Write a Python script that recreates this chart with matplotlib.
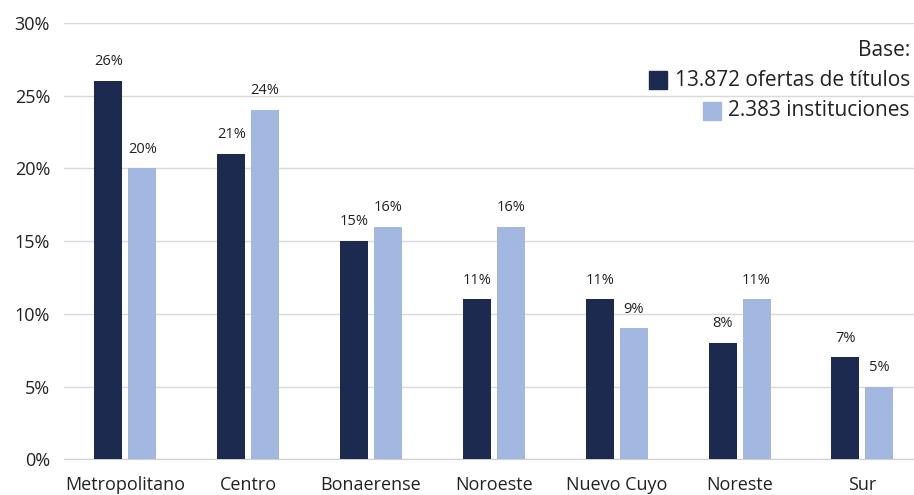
import numpy as np
import matplotlib
matplotlib.use('Agg')
import matplotlib.pyplot as plt
from matplotlib.patches import Rectangle

plt.rcParams['font.family'] = ['Open Sans', 'DejaVu Sans']

# datos
regiones = ['Metropolitano', 'Centro', 'Bonaerense', 'Noroeste', 'Nuevo Cuyo', 'Noreste', 'Sur']
ofertas = [26, 21, 15, 11, 11, 8, 7]
instituciones = [20, 24, 16, 16, 9, 11, 5]
serie_nombres = ['13.872 ofertas de títulos', '2.383 instituciones']

c_oscuro = '#1b2a4e'
c_claro = '#a2b8e0'

fig = plt.figure(figsize=(9.14, 4.95), dpi=100)
ax = fig.add_axes([0.070, 0.072, 0.93, 0.882])

x = np.arange(len(regiones))
w = 0.228
off = 0.138
b1 = ax.bar(x - off, ofertas, w, color=c_oscuro, zorder=3)
b2 = ax.bar(x + off, instituciones, w, color=c_claro, zorder=3)

for bars in (b1, b2):
    for r in bars:
        ax.text(r.get_x() + r.get_width() / 2, r.get_height() + 0.8, f'{int(r.get_height())}%',
                ha='center', va='bottom', fontsize=10.5, color='#222222')

ax.set_ylim(0, 30)
ax.set_xlim(-0.5, 6.42)
ax.set_yticks(range(0, 31, 5))
ax.set_yticklabels([f'{v}%' for v in range(0, 31, 5)], fontsize=13, color='#222222')
ax.set_xticks(x)
ax.set_xticklabels(regiones, fontsize=13, color='#222222')
ax.tick_params(axis='x', length=0, pad=12)
ax.tick_params(axis='y', length=0, pad=10)
ax.yaxis.grid(True, color='#d9d9d9', lw=1, zorder=0)
for s in ['top', 'right', 'left']:
    ax.spines[s].set_visible(False)
ax.spines['bottom'].set_color('#d0d0d0')

# leyenda alineada a la derecha (a mano)
xr = 910 / 914
fig.text(xr, 1 - 50 / 495, 'Base:', ha='right', va='center', fontsize=15, color='#222222')
fig.canvas.draw()
rend = fig.canvas.get_renderer()
for nombre, col, yp in [(serie_nombres[0], c_oscuro, 80), (serie_nombres[1], c_claro, 111)]:
    t = fig.text(xr, 1 - yp / 495, nombre, ha='right', va='center', fontsize=15, color='#222222')
    bb = t.get_window_extent(rend)
    lado = 18
    x0 = bb.x0 - 8 - lado
    y0 = (495 - yp) - lado / 2
    fig.patches.append(Rectangle((x0 / 914, y0 / 495), lado / 914, lado / 495,
                                 transform=fig.transFigure, color=col, figure=fig))

plt.savefig('out.png', dpi=100)
